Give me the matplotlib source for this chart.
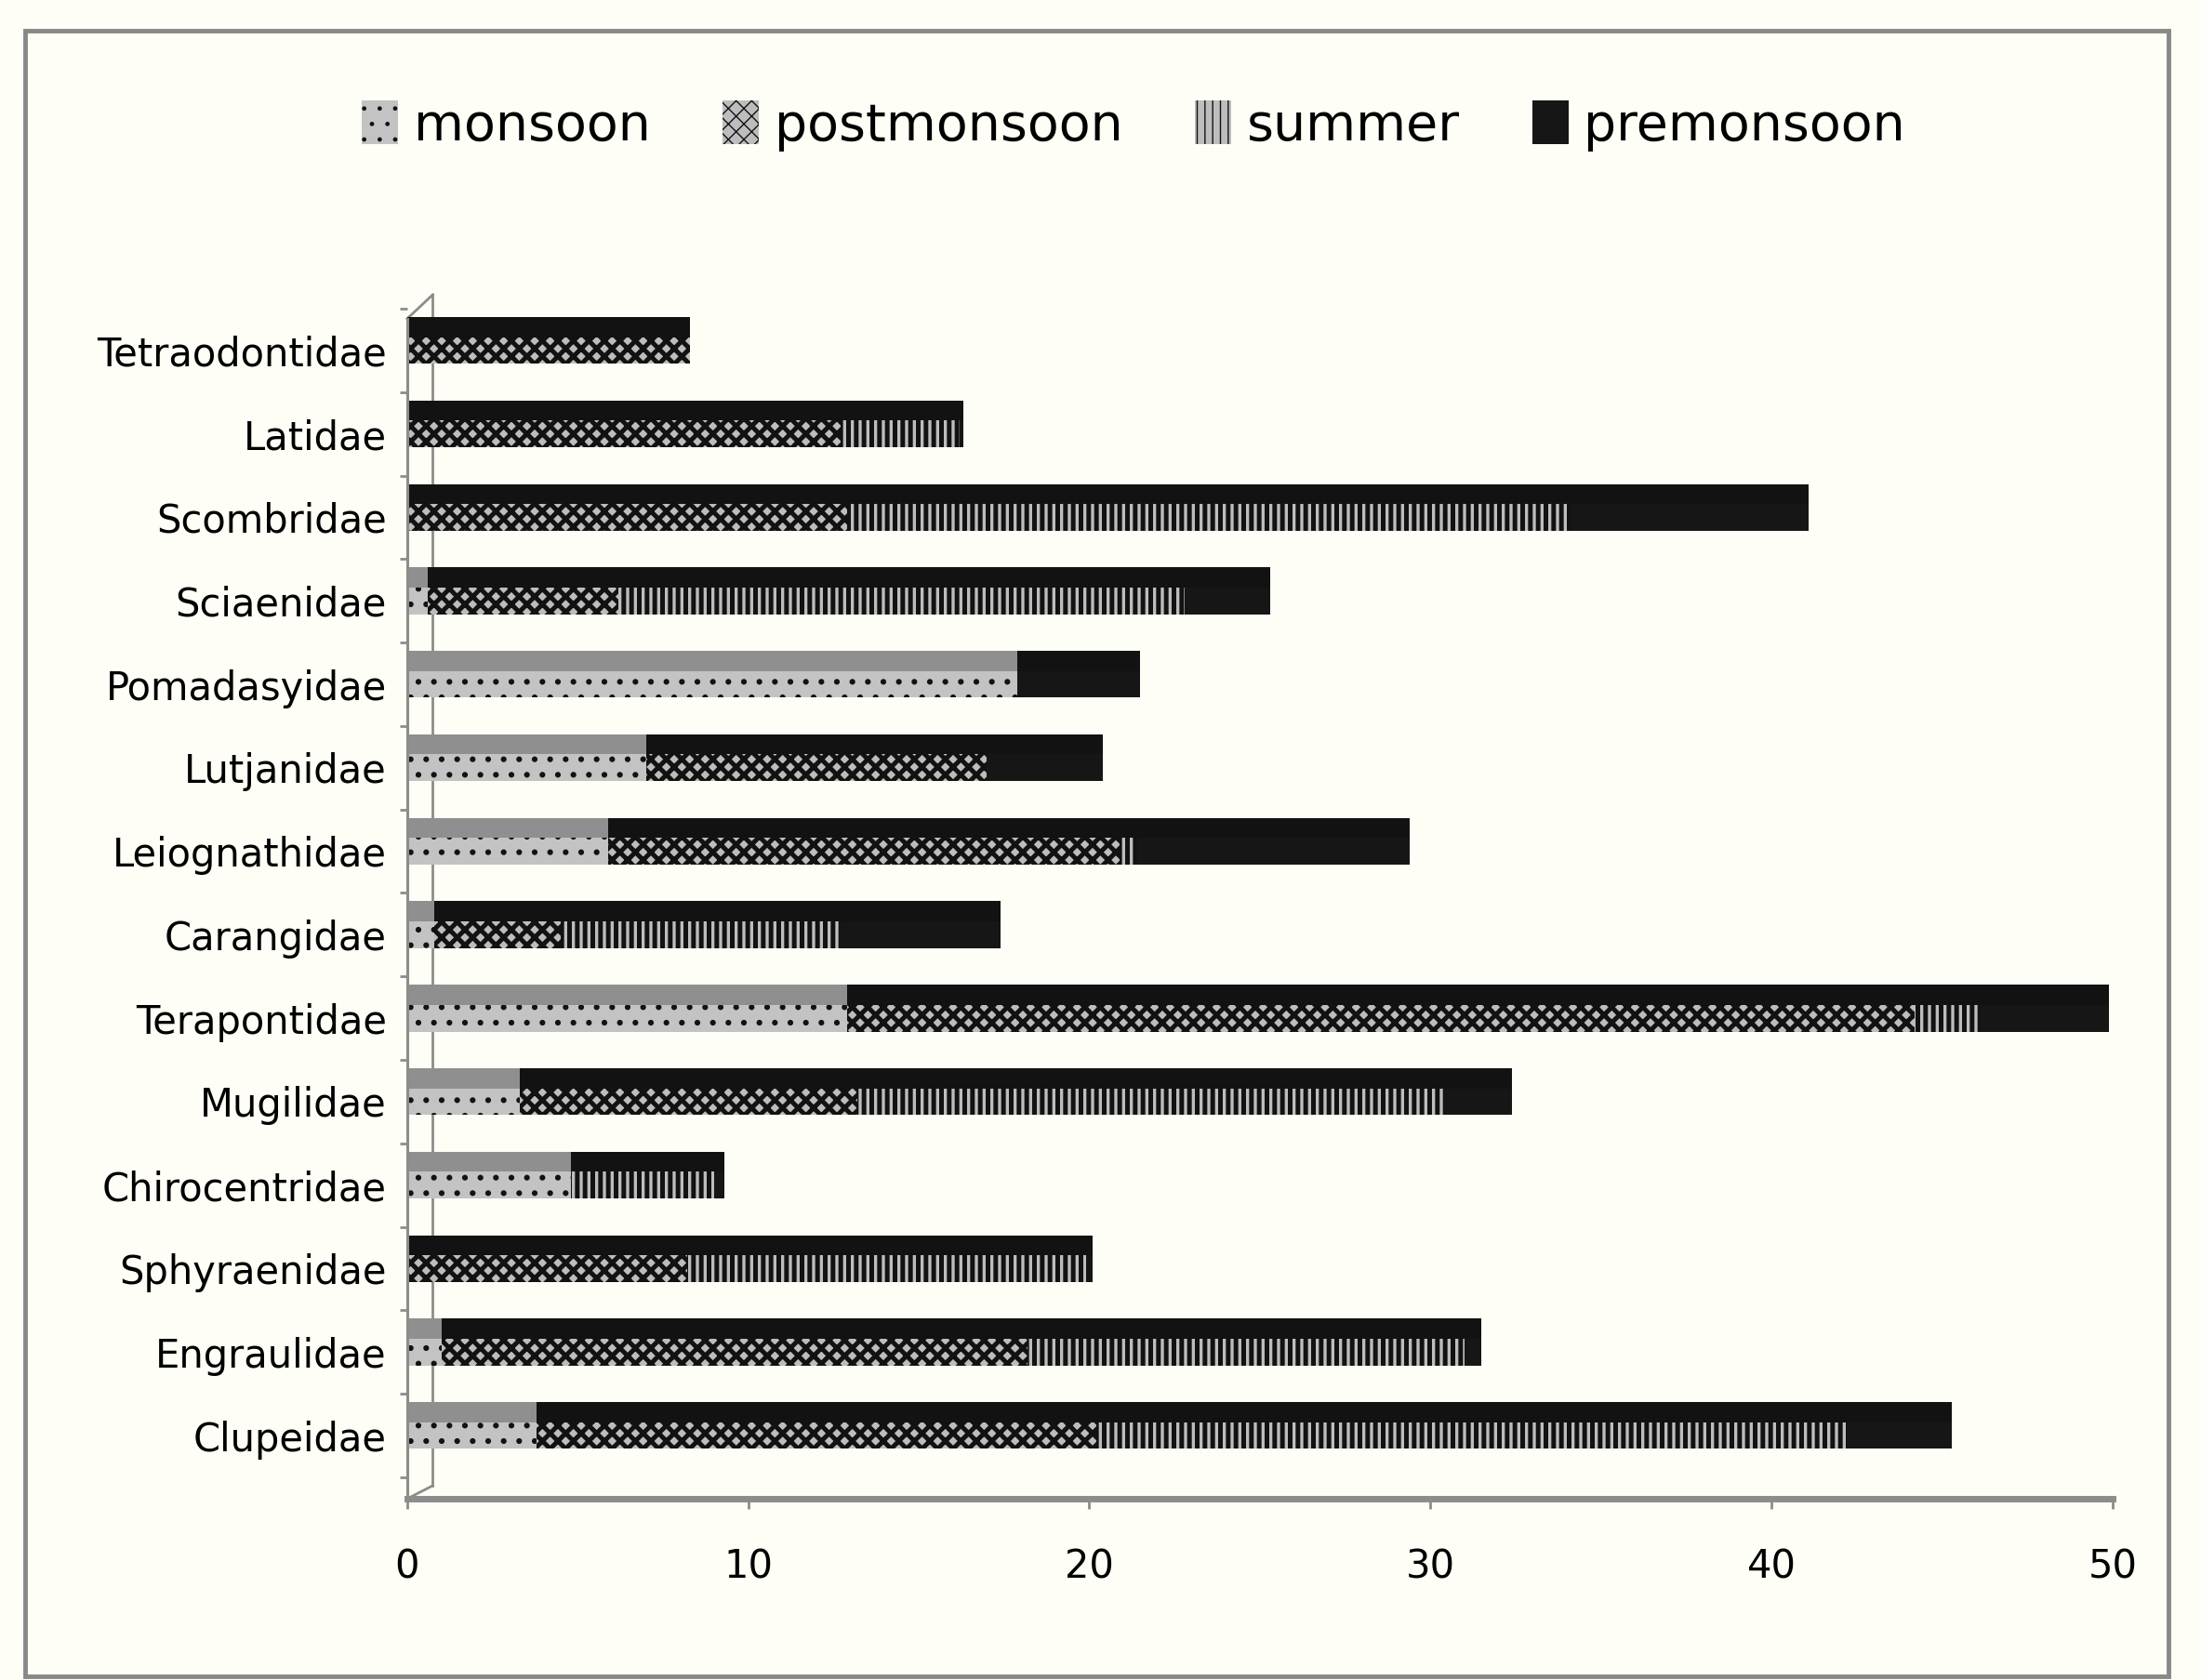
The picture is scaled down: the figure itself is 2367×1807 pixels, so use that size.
import numpy as np
import matplotlib.pyplot as plt
from matplotlib.patches import Rectangle

# Familias de abajo hacia arriba
familias = ['Clupeidae', 'Engraulidae', 'Sphyraenidae', 'Chirocentridae', 'Mugilidae',
            'Terapontidae', 'Carangidae', 'Leiognathidae', 'Lutjanidae', 'Pomadasyidae',
            'Sciaenidae', 'Scombridae', 'Latidae', 'Tetraodontidae']

estaciones = ['monsoon', 'postmonsoon', 'summer', 'premonsoon']

monsoon = [3.8, 1.0, 0.0, 4.8, 3.3, 12.9, 0.8, 5.9, 7.0, 17.9, 0.6, 0.0, 0.0, 0.0]
postmonsoon = [16.4, 17.2, 8.2, 0.0, 9.9, 31.3, 3.7, 15.0, 10.0, 0.0, 5.6, 12.9, 12.7, 8.3]
summer = [22.0, 12.8, 11.7, 4.2, 17.2, 1.9, 8.2, 0.5, 0.0, 0.0, 16.6, 21.2, 3.5, 0.0]
premonsoon = [3.1, 0.5, 0.2, 0.3, 2.0, 3.8, 4.7, 8.0, 3.4, 3.6, 2.5, 7.0, 0.1, 0.0]

ticks_x = [0, 10, 20, 30, 40, 50]

FONDO = '#fefef6'
GRIS_EJE = '#8c8c8c'
NEGRO = '#121212'

# (cara frontal, tapa superior, trama, grosor de trama)
estilos = [
    ('#c3c3c3', '#8f8f8f', '.', 2.0),
    ('#bdbdbd', NEGRO, 'xx', 3.6),
    ('#bdbdbd', NEGRO, '||', 3.6),
    ('#161616', NEGRO, '', 1.0),
]

ALTO_FRENTE = 0.32
ALTO_TAPA = 0.24

fig = plt.figure(figsize=(23.67, 18.07), dpi=100, facecolor=FONDO)
ax = fig.add_axes([0.185, 0.1079, 0.7748, 0.7167])
ax.set_facecolor(FONDO)

y = np.arange(len(familias))
izquierda = np.zeros(len(familias))

for nombre, valores, (cara, tapa, trama, grosor) in zip(
        estaciones, [monsoon, postmonsoon, summer, premonsoon], estilos):
    valores = np.array(valores)
    plt.rcParams['hatch.linewidth'] = grosor
    ax.barh(y, valores, left=izquierda, height=ALTO_FRENTE, color=cara,
            edgecolor=NEGRO, hatch=trama, linewidth=0, label=nombre, zorder=2)
    # cara superior de la barra 3D
    ax.barh(y + ALTO_FRENTE / 2 + ALTO_TAPA / 2, valores, left=izquierda,
            height=ALTO_TAPA, color=tapa, linewidth=0, zorder=2)
    izquierda += valores

ax.set_xlim(0, 50)
ax.set_ylim(-0.757, 13.668)

ax.spines['top'].set_visible(False)
ax.spines['right'].set_visible(False)
ax.spines['left'].set_color(GRIS_EJE)
ax.spines['left'].set_linewidth(2.2)
ax.spines['left'].set_bounds(-0.757, 13.38)
ax.spines['bottom'].set_color(GRIS_EJE)
ax.spines['bottom'].set_linewidth(5)

# pared del fondo
ax.plot([0.75, 0.75], [-0.6, 13.668], color=GRIS_EJE, lw=2, zorder=0.5, clip_on=False)
ax.plot([0.0, 0.75], [13.38, 13.668], color=GRIS_EJE, lw=2, zorder=0.5, clip_on=False)
ax.plot([0.0, 0.75], [-0.757, -0.6], color=GRIS_EJE, lw=2, zorder=0.5, clip_on=False)

ax.set_xticks(ticks_x)
ax.set_xticklabels([str(t) for t in ticks_x])
ax.tick_params(axis='x', direction='out', length=8, width=2, color=GRIS_EJE,
               labelsize=30, pad=30, labelcolor='black')

ax.set_yticks(y)
ax.set_yticklabels(familias)
ax.set_yticks(np.arange(len(familias) + 1) - 0.5, minor=True)
ax.tick_params(axis='y', which='major', length=0, labelsize=30, pad=16, labelcolor='black')
ax.tick_params(axis='y', which='minor', direction='out', length=6, width=2, color=GRIS_EJE)

fig.legend(loc='center', bbox_to_anchor=(0.515, 0.925), ncol=4, frameon=False,
           fontsize=40, handlelength=0.7, handleheight=0.9, handletextpad=0.3,
           columnspacing=1.4)

# marco del grafico
fig.patches.append(Rectangle((27 / 2367, 0.002), (2332 - 27) / 2367, 1 - 33 / 1807 - 0.002,
                             transform=fig.transFigure, fill=False,
                             edgecolor='#888888', lw=3.5))

fig.savefig('out.png', dpi=100, facecolor=FONDO)
